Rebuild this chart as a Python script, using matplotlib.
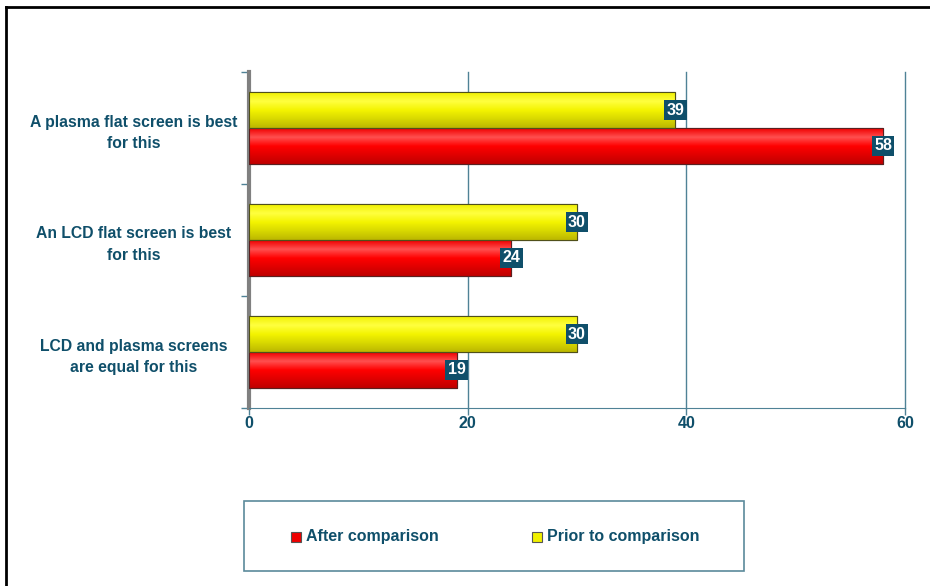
import numpy as np
import matplotlib.pyplot as plt
from matplotlib.patches import Rectangle
from matplotlib.lines import Line2D
from matplotlib.colors import LinearSegmentedColormap

plt.rcParams['font.family'] = ['Liberation Sans', 'DejaVu Sans']

categories = ['LCD and plasma screens\nare equal for this',
              'An LCD flat screen is best\nfor this',
              'A plasma flat screen is best\nfor this']
after = [19, 24, 58]
prior = [30, 30, 39]
series_names = ['After comparison', 'Prior to comparison']
x_ticks = [0, 20, 40, 60]

teal = '#0f4f6a'
grid_c = '#4f8296'

fig = plt.figure(figsize=(9.3, 5.86), dpi=100)
ax = fig.add_axes([249 / 930, 178 / 586, 656 / 930, 336 / 586])

y = np.arange(len(categories))
h = 0.32
bars_red = ax.barh(y - h / 2, after, height=h, color='#ee0000', edgecolor='#5a2020', linewidth=0.8, zorder=3)
bars_yel = ax.barh(y + h / 2, prior, height=h, color='#e6e600', edgecolor='#50501a', linewidth=0.8, zorder=3)

# vertical gradients for the pseudo-3D look
cm_red = LinearSegmentedColormap.from_list('r', ['#c00000', '#e00000', '#ff0000', '#ff5050', '#f00000'])
cm_yel = LinearSegmentedColormap.from_list('y', ['#bcb800', '#d8d800', '#f4f400', '#ffff40', '#f0f000'])
grad = np.linspace(0, 1, 64).reshape(-1, 1)
for bars, cm in [(bars_red, cm_red), (bars_yel, cm_yel)]:
    for b in bars:
        x0, y0 = b.get_x(), b.get_y()
        im = ax.imshow(grad, cmap=cm, aspect='auto', origin='lower',
                       extent=[x0, x0 + b.get_width(), y0, y0 + b.get_height()], zorder=3.5)
        im.set_clip_path(b)
        ax.add_patch(Rectangle((x0, y0), b.get_width(), b.get_height(), fill=False,
                               edgecolor=b.get_edgecolor(), linewidth=0.8, zorder=4))

# value labels
for bars, vals in [(bars_red, after), (bars_yel, prior)]:
    for b, v in zip(bars, vals):
        ax.text(v, b.get_y() + b.get_height() / 2, str(v), ha='center', va='center',
                color='white', fontsize=11.5, fontweight='bold', zorder=6,
                bbox=dict(boxstyle='square,pad=0.15', facecolor=teal, edgecolor='none'))

ax.set_xlim(0, 60)
ax.set_ylim(-0.5, len(categories) - 0.5)
ax.set_xticks(x_ticks)
ax.set_xticklabels([str(t) for t in x_ticks], color=teal, fontsize=11.5, fontweight='bold')
ax.set_yticks(y)
ax.set_yticklabels(categories, color=teal, fontsize=11.3, fontweight='bold', ha='center', linespacing=1.55)
ax.tick_params(axis='y', length=0, pad=83)
ax.set_yticks(np.arange(-0.5, len(categories), 1), minor=True)
ax.tick_params(axis='y', which='minor', length=6, color=grid_c, width=1)
ax.tick_params(axis='x', length=5, color=grid_c, width=1, pad=1)

for t in x_ticks[1:]:
    ax.axvline(t, color=grid_c, linewidth=1, zorder=1, clip_on=False)

for s in ['top', 'right']:
    ax.spines[s].set_visible(False)
ax.spines['bottom'].set_color(grid_c)
ax.spines['left'].set_color('#808080')
ax.spines['left'].set_linewidth(3)

# outer frame (top and left edges)
fig.add_artist(Line2D([6 / 930, 6 / 930], [0, 1 - 7 / 586], color='black', linewidth=2))
fig.add_artist(Line2D([6 / 930, 1], [1 - 7 / 586, 1 - 7 / 586], color='black', linewidth=2))

# legend box
fig.add_artist(Rectangle((244 / 930, 15 / 586), 500 / 930, 70 / 586, transform=fig.transFigure,
                         fill=False, edgecolor='#5b8a9b', linewidth=1.2))
leg_x = [291, 532]
for name, c, lx in zip(series_names, ['#ee0000', '#f0f000'], leg_x):
    fig.add_artist(Rectangle((lx / 930, (586 - 542) / 586), 10 / 930, 10 / 586, transform=fig.transFigure,
                             facecolor=c, edgecolor='#555555', linewidth=0.8))
    fig.text((lx + 15) / 930, (586 - 537) / 586, name, color=teal, fontsize=11.5,
             fontweight='bold', va='center', ha='left')

fig.savefig('out.png', dpi=100)
